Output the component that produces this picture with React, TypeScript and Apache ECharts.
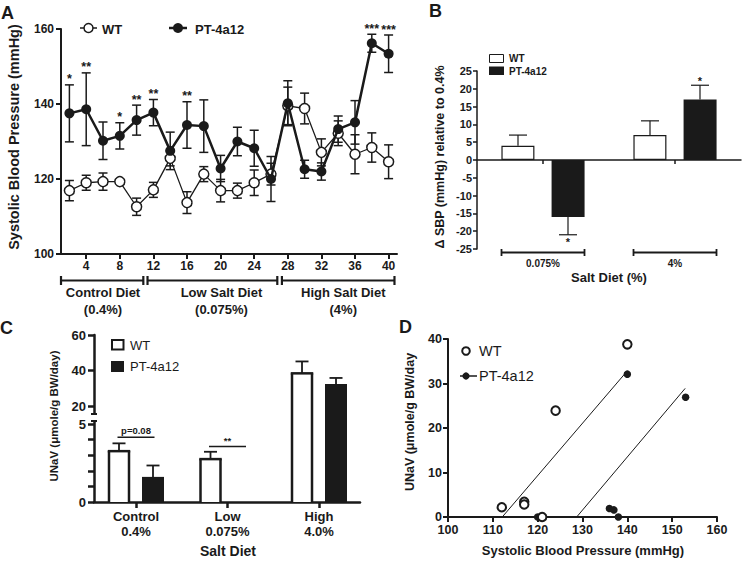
import React, { useEffect, useRef } from 'react';
import * as echarts from 'echarts';

const FONT = "'Liberation Sans', Arial, Helvetica, sans-serif";
const INK = '#1a1a1a';

// ---------- Panel A: systolic blood pressure over weeks ----------
const weeks = [2, 4, 6, 8, 10, 12, 14, 16, 18, 20, 22, 24, 26, 28, 30, 32, 34, 36, 38, 40];
const weekTicks = [4, 8, 12, 16, 20, 24, 28, 32, 36, 40];
const wtSbp = [116.9, 119.0, 119.3, 119.3, 112.6, 117.1, 125.5, 113.7, 121.3, 116.9, 116.9, 119.0, 121.3, 139.5, 138.8, 127.1, 132.2, 126.6, 128.4, 124.6];
const wtSbpErr = [2.7, 2.0, 2.3, 0.5, 2.3, 2.0, 2.0, 2.9, 2.0, 3.0, 2.0, 3.4, 2.9, 5.0, 4.1, 3.6, 3.3, 5.2, 3.9, 4.5];
const ptSbp = [137.5, 138.6, 130.2, 131.5, 135.7, 137.7, 127.5, 134.4, 134.1, 122.8, 130.0, 128.2, 120.0, 140.2, 122.6, 122.0, 133.3, 135.1, 156.2, 153.4];
const ptSbpErr = [7.6, 9.7, 5.0, 3.5, 4.0, 3.5, 5.0, 6.2, 7.0, 3.5, 3.8, 4.8, 6.0, 6.0, 2.4, 2.3, 3.5, 5.8, 2.4, 5.0];
const ptStars = ['*', '**', '', '*', '**', '**', '', '**', '', '', '', '', '', '', '', '', '', '', '***', '***'];
const dietLabels = ['Control Diet\n(0.4%)', 'Low Salt Diet\n(0.075%)', 'High Salt Diet\n(4%)'];
const dietFrom = [1.0, 11.3, 27.3];
const dietTo = [10.8, 26.75, 40.7];
const dietLabelAt = [6.0, 20.1, 34.6];

// ---------- Panel B: change in SBP relative to 0.4% ----------
const bDiets = ['0.075%', '4%'];
const bWt = [4, 7];
const bWtErr = [3, 4];
const bPt = [-16, 17];
const bPtErr = [5, 4];
const bPtStars = ['*', '*'];

// ---------- Panel C: UNaV by salt diet ----------
const cDiets = ['Control\n0.4%', 'Low\n0.075%', 'High\n4.0%'];
const cWt = [3.26, 2.75, 38.4];
const cWtErr = [0.5, 0.47, 6.7];
const cPt = [1.61, 0, 32.4];
const cPtErr = [0.73, 0, 3.4];
const cCompareAt = [4.15, 3.55];
const cCompareText = ['p=0.08', '**'];

// ---------- Panel D: UNaV vs SBP ----------
const dWt = [[112, 2.2], [117, 3.4], [117, 2.8], [121, 0], [124, 23.9], [140, 38.8]];
const dPt = [[120, 0], [136, 1.9], [137, 1.6], [138, 0], [140, 32.1], [153, 26.9]];
const dWtFit = [[112.1, 0], [139.8, 32.6]];
const dPtFit = [[128.7, 0], [152.9, 28.9]];

const lbl = (fs: number, extra: any = {}) => ({
  color: INK, fontSize: fs, fontWeight: 'bold', fontFamily: FONT, ...extra,
});

const line = (x1: number, y1: number, x2: number, y2: number, w: number) => ({
  type: 'line', shape: { x1, y1, x2, y2 }, style: { stroke: INK, lineWidth: w },
});

const txt = (text: string, x: number, y: number, fs: number, o: any = {}) => ({
  type: 'text', x, y, rotation: o.rot || 0, silent: true,
  style: {
    text, fill: INK, fontSize: fs, fontWeight: o.weight || 'bold', fontFamily: FONT,
    align: o.align || 'left', verticalAlign: o.va || 'middle', lineHeight: o.lh,
  },
});

function errSeries(grid: number, data: number[][], cap: number, w: number) {
  return {
    type: 'custom', xAxisIndex: grid, yAxisIndex: grid, z: 2, silent: true, clip: false,
    data,
    renderItem: (_p: any, api: any) => {
      const x = api.value(0);
      const a = api.coord([x, api.value(2)]);
      const b = api.coord([x, api.value(1)]);
      return {
        type: 'group',
        children: [
          line(a[0], a[1], b[0], b[1], w),
          line(a[0] - cap, a[1], a[0] + cap, a[1], w),
          line(b[0] - cap, b[1], b[0] + cap, b[1], w),
        ],
      };
    },
  };
}

function bErrSeries(vals: number[], errs: number[], side: number, stars: string[] | null) {
  return {
    type: 'custom', xAxisIndex: 1, yAxisIndex: 1, z: 3, silent: true, clip: false,
    data: vals.map((v, i) => [i, v, v + Math.sign(v) * errs[i]]),
    renderItem: (p: any, api: any) => {
      const i = api.value(0);
      const v = api.value(1);
      const e = api.value(2);
      const a = api.coord([i, v]);
      const b = api.coord([i, e]);
      const cx = a[0] + side * 25;
      const kids: any[] = [line(cx, a[1], cx, b[1], 1.2), line(cx - 9, b[1], cx + 9, b[1], 1.2)];
      const s = stars ? stars[p.dataIndex] : '';
      if (s) {
        if (e > v) kids.push({ type: 'text', x: cx, y: b[1] + 1, style: { text: s, fill: INK, fontSize: 11, fontWeight: 'bold', fontFamily: FONT, align: 'center', verticalAlign: 'bottom' } });
        else kids.push({ type: 'text', x: cx, y: b[1] + 2, style: { text: s, fill: INK, fontSize: 11, fontWeight: 'bold', fontFamily: FONT, align: 'center', verticalAlign: 'top' } });
      }
      return { type: 'group', children: kids };
    },
  };
}

function cBarSeries(grid: number, vals: number[], errs: number[], side: number, filled: boolean) {
  return {
    type: 'custom', xAxisIndex: grid, yAxisIndex: grid, z: 2, silent: true, clip: false,
    data: vals.map((v, i) => [i, v, errs[i]]),
    renderItem: (p: any, api: any) => {
      const i = api.value(0);
      const v = api.value(1);
      const e = api.value(2);
      const kids: any[] = [];
      if (!(v > 0)) return { type: 'group', children: kids };
      const cs = p.coordSys;
      const top = cs.y;
      const bot = cs.y + cs.height;
      const cl = (y: number) => Math.max(top, Math.min(bot, y));
      const base = api.coord([i, 0]);
      const cx = base[0] + side * 17;
      const y0 = cl(base[1]);
      const yv = api.coord([i, v])[1];
      const ye = api.coord([i, v + e])[1];
      const y1 = cl(yv);
      if (e > 0) {
        const s1 = cl(yv);
        const s2 = cl(ye);
        if (s1 > s2) kids.push(line(cx, s1, cx, s2, 1.8));
        if (ye >= top && ye <= bot) kids.push(line(cx - 6.5, ye, cx + 6.5, ye, 1.8));
      }
      if (y0 > y1) {
        const w = filled ? 22 : 20;
        kids.push({
          type: 'rect', shape: { x: cx - w / 2, y: y1, width: w, height: y0 - y1 },
          style: { fill: filled ? INK : '#fff', lineWidth: 0 },
        });
        if (!filled) {
          kids.push(line(cx - w / 2, y0, cx - w / 2, y1, 2.5));
          kids.push(line(cx + w / 2, y0, cx + w / 2, y1, 2.5));
          if (yv >= top && yv <= bot) kids.push(line(cx - w / 2 - 1.25, yv, cx + w / 2 + 1.25, yv, 2.5));
        }
      }
      return { type: 'group', children: kids };
    },
  };
}

function buildOption(): any {
  const axLine = (w: number) => ({ show: true, onZero: false, lineStyle: { color: INK, width: w } });
  const axTick = (len: number, w: number, extra: any = {}) => ({ show: true, length: len, lineStyle: { color: INK, width: w }, ...extra });
  const cMin = -0.459;
  const cMax = 2.448;

  const grids = [
    { left: 61, top: 29, width: 336, height: 225 },
    { left: 477, top: 71, width: 264, height: 178 },
    { left: 94, top: 335, width: 266, height: 83 },
    { left: 94, top: 418, width: 266, height: 84 },
    { left: 448, top: 339, width: 269, height: 178 },
  ].map((g) => ({ ...g, containLabel: false, outerBoundsMode: 'none' }));

  const xAxis = [
    {
      gridIndex: 0, type: 'value', min: 1, max: 41,
      axisLine: axLine(2), axisTick: axTick(5, 2, { customValues: weekTicks }),
      axisLabel: lbl(12, { customValues: weekTicks, margin: 6 }), splitLine: { show: false },
    },
    {
      gridIndex: 1, type: 'category', data: bDiets, boundaryGap: true,
      axisLine: { show: true, onZero: true, lineStyle: { color: INK, width: 1.5 } },
      axisTick: axTick(4, 1.5, { alignWithLabel: true }),
      axisLabel: { show: false }, splitLine: { show: false },
    },
    { gridIndex: 2, type: 'value', min: cMin, max: cMax, show: false, splitLine: { show: false } },
    {
      gridIndex: 3, type: 'value', min: cMin, max: cMax,
      axisLine: axLine(2.5), axisTick: axTick(6, 2.5, { customValues: [0, 1, 2] }),
      axisLabel: lbl(13, { customValues: [0, 1, 2], margin: 7, lineHeight: 15, formatter: (v: number) => cDiets[Math.round(v)] }),
      splitLine: { show: false },
    },
    {
      gridIndex: 4, type: 'value', min: 100, max: 160, interval: 10,
      axisLine: axLine(2), axisTick: axTick(5, 2), axisLabel: lbl(12.5, { margin: 6 }), splitLine: { show: false },
    },
  ];

  const yAxis = [
    {
      gridIndex: 0, type: 'value', min: 100, max: 160, interval: 20,
      axisLine: axLine(2), axisTick: axTick(5, 2), axisLabel: lbl(12, { margin: 7 }), splitLine: { show: false },
    },
    {
      gridIndex: 1, type: 'value', min: -25, max: 25, interval: 5,
      axisLine: axLine(1.5), axisTick: axTick(4, 1.5), axisLabel: lbl(11, { margin: 5 }), splitLine: { show: false },
    },
    {
      gridIndex: 2, type: 'value', min: 13.24, max: 60,
      axisLine: axLine(2.5), axisTick: axTick(6, 2.5, { customValues: [20, 40, 60] }),
      axisLabel: lbl(13, { customValues: [20, 40, 60], margin: 8 }), splitLine: { show: false },
    },
    {
      gridIndex: 3, type: 'value', min: 0, max: 5.385,
      axisLine: axLine(2.5), axisTick: axTick(6, 2.5, { customValues: [0, 1, 2, 3, 4, 5] }),
      axisLabel: lbl(13, { customValues: [0, 5], margin: 8 }), splitLine: { show: false },
    },
    {
      gridIndex: 4, type: 'value', min: 0, max: 40, interval: 10,
      axisLine: axLine(2), axisTick: axTick(5, 2), axisLabel: lbl(12.5, { margin: 6 }), splitLine: { show: false },
    },
  ];

  const series: any[] = [
    // ---- A ----
    errSeries(0, weeks.map((w, i) => [w, wtSbp[i] - wtSbpErr[i], wtSbp[i] + wtSbpErr[i]]), 4.5, 1.5),
    errSeries(0, weeks.map((w, i) => [w, ptSbp[i] - ptSbpErr[i], ptSbp[i] + ptSbpErr[i]]), 4.5, 1.5),
    {
      type: 'line', name: 'WT', xAxisIndex: 0, yAxisIndex: 0, z: 3,
      data: weeks.map((w, i) => [w, wtSbp[i]]),
      symbol: 'circle', symbolSize: 10, showSymbol: true,
      lineStyle: { color: INK, width: 1.3 },
      itemStyle: { color: '#fff', borderColor: INK, borderWidth: 1.5, opacity: 1 },
    },
    {
      type: 'line', name: 'PT-4a12', xAxisIndex: 0, yAxisIndex: 0, z: 4,
      data: weeks.map((w, i) => [w, ptSbp[i]]),
      symbol: 'circle', symbolSize: 10, showSymbol: true,
      lineStyle: { color: INK, width: 2.5 },
      itemStyle: { color: INK, opacity: 1 },
    },
    {
      type: 'custom', xAxisIndex: 0, yAxisIndex: 0, z: 5, silent: true, clip: false,
      data: weeks.map((w, i) => [w, ptSbp[i] + ptSbpErr[i]]),
      renderItem: (p: any, api: any) => {
        const s = ptStars[p.dataIndex];
        const c = api.coord([api.value(0), api.value(1)]);
        return {
          type: 'text', x: c[0], y: c[1] + 1,
          style: { text: s, fill: INK, fontSize: 12.5, fontWeight: 'bold', fontFamily: FONT, align: 'center', verticalAlign: 'bottom' },
        };
      },
    },
    {
      type: 'custom', xAxisIndex: 0, yAxisIndex: 0, z: 5, silent: true, clip: false,
      data: dietFrom.map((f, i) => [f, 100, dietTo[i], dietLabelAt[i]]),
      renderItem: (p: any, api: any) => {
        const a = api.coord([api.value(0), api.value(1)]);
        const b = api.coord([api.value(2), api.value(1)]);
        const l = api.coord([api.value(3), api.value(1)]);
        const y = a[1] + 26.5;
        return {
          type: 'group',
          children: [
            line(a[0], y, b[0], y, 2.2),
            line(a[0], y - 4.5, a[0], y + 4.5, 2.2),
            line(b[0], y - 4.5, b[0], y + 4.5, 2.2),
            {
              type: 'text', x: l[0], y: y + 3,
              style: { text: dietLabels[p.dataIndex], fill: INK, fontSize: 13, fontWeight: 'bold', fontFamily: FONT, align: 'center', verticalAlign: 'top', lineHeight: 17 },
            },
          ],
        };
      },
    },
    // ---- B ----
    {
      type: 'bar', name: 'WT', xAxisIndex: 1, yAxisIndex: 1, z: 2, data: bWt, barWidth: 33, barGap: '52%',
      itemStyle: { color: '#fff', borderColor: INK, borderWidth: 1.2 },
    },
    {
      type: 'bar', name: 'PT-4a12', xAxisIndex: 1, yAxisIndex: 1, z: 2, data: bPt, barWidth: 33, barGap: '52%',
      itemStyle: { color: INK },
    },
    bErrSeries(bWt, bWtErr, -1, null),
    bErrSeries(bPt, bPtErr, 1, bPtStars),
    {
      type: 'custom', xAxisIndex: 1, yAxisIndex: 1, z: 3, silent: true, clip: false,
      data: bDiets.map((_d, i) => [i, -25]),
      renderItem: (p: any, api: any) => {
        const c = api.coord([api.value(0), api.value(1)]);
        const y = c[1] + 3.5;
        return {
          type: 'group',
          children: [
            line(c[0] - 41.5, y, c[0] + 41.5, y, 1.8),
            line(c[0] - 41.5, y - 3.5, c[0] - 41.5, y + 3.5, 1.8),
            line(c[0] + 41.5, y - 3.5, c[0] + 41.5, y + 3.5, 1.8),
            {
              type: 'text', x: c[0], y: y + 11,
              style: { text: bDiets[p.dataIndex], fill: INK, fontSize: 10, fontWeight: 'bold', fontFamily: FONT, align: 'center', verticalAlign: 'middle' },
            },
          ],
        };
      },
    },
    // ---- C ----
    cBarSeries(2, cWt, cWtErr, -1, false),
    cBarSeries(2, cPt, cPtErr, 1, true),
    cBarSeries(3, cWt, cWtErr, -1, false),
    cBarSeries(3, cPt, cPtErr, 1, true),
    {
      type: 'custom', xAxisIndex: 3, yAxisIndex: 3, z: 3, silent: true, clip: false,
      data: cCompareAt.map((y, i) => [i, y]),
      renderItem: (p: any, api: any) => {
        const c = api.coord([api.value(0), api.value(1)]);
        return {
          type: 'group',
          children: [
            line(c[0] - 18.5, c[1], c[0] + 18.5, c[1], 1.5),
            {
              type: 'text', x: c[0], y: c[1] - 1.5,
              style: { text: cCompareText[p.dataIndex], fill: INK, fontSize: 9.5, fontWeight: 'bold', fontFamily: FONT, align: 'center', verticalAlign: 'bottom' },
            },
          ],
        };
      },
    },
    // ---- D ----
    {
      type: 'line', xAxisIndex: 4, yAxisIndex: 4, z: 2, data: dWtFit, symbol: 'none', showSymbol: false,
      lineStyle: { color: INK, width: 1 }, silent: true,
    },
    {
      type: 'line', xAxisIndex: 4, yAxisIndex: 4, z: 2, data: dPtFit, symbol: 'none', showSymbol: false,
      lineStyle: { color: INK, width: 1 }, silent: true,
    },
    {
      type: 'scatter', name: 'PT-4a12', xAxisIndex: 4, yAxisIndex: 4, z: 3, clip: false, data: dPt,
      symbol: 'circle', symbolSize: 7.5, itemStyle: { color: INK, opacity: 1 },
    },
    {
      type: 'scatter', name: 'WT', xAxisIndex: 4, yAxisIndex: 4, z: 4, clip: false, data: dWt,
      symbol: 'circle', symbolSize: 8.5, itemStyle: { color: '#fff', borderColor: INK, borderWidth: 2, opacity: 1 },
    },
  ];

  const graphic: any[] = [
    // panel letters
    txt('A', 1, 13, 18),
    txt('B', 429, 11, 18),
    txt('C', 0, 328, 18),
    txt('D', 399, 327, 18),
    // A legend + title
    { ...line(80, 28, 97, 28, 1.5), silent: true },
    { type: 'circle', silent: true, shape: { cx: 88.5, cy: 28, r: 4.5 }, style: { fill: '#fff', stroke: INK, lineWidth: 1.5 } },
    txt('WT', 102, 29, 13),
    { ...line(169, 28, 187, 28, 2.5), silent: true },
    { type: 'circle', silent: true, shape: { cx: 178, cy: 28, r: 5 }, style: { fill: INK } },
    txt('PT-4a12', 195, 29, 13),
    txt('Systolic Blood Pressure (mmHg)', 14, 137, 14.5, { rot: Math.PI / 2, align: 'center' }),
    // B legend + titles
    { type: 'rect', silent: true, shape: { x: 489.5, y: 54.5, width: 14, height: 8 }, style: { fill: '#fff', stroke: INK, lineWidth: 1 } },
    txt('WT', 509, 58.5, 10),
    { type: 'rect', silent: true, shape: { x: 489, y: 66.5, width: 15, height: 8.5 }, style: { fill: INK } },
    txt('PT-4a12', 509, 71, 10),
    txt('Δ SBP (mmHg) relative to 0.4%', 440, 157, 12.5, { rot: Math.PI / 2, align: 'center' }),
    txt('Salt Diet (%)', 609, 277, 13, { align: 'center' }),
    // C legend, titles, axis break
    { type: 'rect', silent: true, shape: { x: 112, y: 340, width: 11.5, height: 9.5 }, style: { fill: '#fff', stroke: INK, lineWidth: 2 } },
    txt('WT', 130, 345, 13, { weight: 'normal' }),
    { type: 'rect', silent: true, shape: { x: 111, y: 361, width: 13, height: 11 }, style: { fill: INK } },
    txt('PT-4a12', 130, 366.5, 13, { weight: 'normal' }),
    txt('UNaV (μmole/g BW/day)', 54, 416, 11.5, { rot: Math.PI / 2, align: 'center' }),
    txt('Salt Diet', 228, 551, 14, { align: 'center' }),
    { type: 'rect', silent: true, z: 100, shape: { x: 89, y: 414.8, width: 10, height: 5.6 }, style: { fill: '#fff' } },
    { ...line(91, 414, 97, 414, 2), z: 101, silent: true },
    { ...line(91, 421, 97, 421, 2), z: 101, silent: true },
    // D legend + titles
    { type: 'circle', silent: true, shape: { cx: 466, cy: 351, r: 3.8 }, style: { fill: '#fff', stroke: INK, lineWidth: 2 } },
    txt('WT', 479, 351, 14.5, { weight: 'normal' }),
    { ...line(460, 376, 477, 376, 1.5), silent: true },
    { type: 'circle', silent: true, shape: { cx: 466, cy: 376, r: 3.6 }, style: { fill: INK } },
    txt('PT-4a12', 479, 376, 14.5, { weight: 'normal' }),
    txt('UNaV (μmole/g BW/day', 410, 422, 12.5, { rot: Math.PI / 2, align: 'center' }),
    txt('Systolic Blood Pressure (mmHg)', 583, 550, 13, { align: 'center' }),
  ];

  return {
    animation: false,
    backgroundColor: '#fff',
    textStyle: { fontFamily: FONT, color: INK },
    grid: grids,
    xAxis,
    yAxis,
    series,
    graphic,
  };
}

export default function App() {
  const ref = useRef<HTMLDivElement>(null);
  useEffect(() => {
    if (!ref.current) return;
    const chart = echarts.init(ref.current, undefined, { renderer: 'svg' });
    chart.setOption(buildOption());
    return () => chart.dispose();
  }, []);
  return (
    <div
      ref={ref}
      style={{ position: 'absolute', left: 0, top: 0, width: 742, height: 561, background: '#fff' }}
    />
  );
}
